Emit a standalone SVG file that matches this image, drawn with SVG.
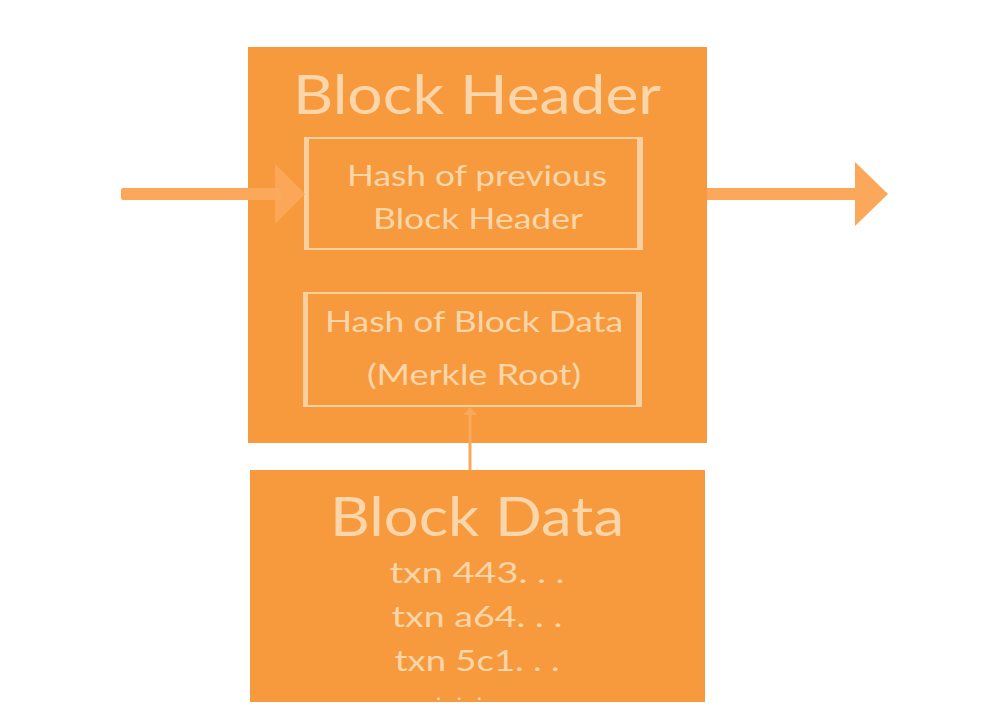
<svg xmlns="http://www.w3.org/2000/svg" width="984" height="719" viewBox="0 0 984 719">
<defs>
<style>
.box{fill:#F79A3E}
.t{fill:#FBD6AA;font-family:Lato,"Open Sans",sans-serif;text-anchor:middle}
.big{font-size:54px}
.mid{font-size:29px}
.edge{fill:none;stroke:#FAD0A0;stroke-width:2}
.bar{fill:#FAD0A0}
.arrow{fill:#FBA85A}
</style>
<clipPath id="bdclip"><rect x="250" y="470" width="455" height="232"/></clipPath>
</defs>
<rect width="984" height="719" fill="#FFFFFF"/>
<g id="block-header">
<rect class="box" x="248" y="47" width="459" height="396"/>
<text class="t big" x="477" y="114" textLength="368" lengthAdjust="spacingAndGlyphs">Block Header</text>
</g>
<g id="prev-hash">
<rect class="edge" x="306" y="138" width="336" height="111"/>
<rect class="bar" x="304" y="137" width="5" height="113"/>
<rect class="bar" x="637" y="137" width="6" height="113"/>
<text class="t mid" x="477" y="186" textLength="260" lengthAdjust="spacingAndGlyphs">Hash of previous</text>
<text class="t mid" x="478" y="229" textLength="210" lengthAdjust="spacingAndGlyphs">Block Header</text>
</g>
<g id="merkle-root">
<rect class="edge" x="305" y="293" width="336" height="113"/>
<rect class="bar" x="303" y="292" width="5" height="115"/>
<rect class="bar" x="636" y="292" width="6" height="115"/>
<text class="t mid" x="474" y="332" textLength="298" lengthAdjust="spacingAndGlyphs">Hash of Block Data</text>
<text class="t mid" x="474" y="385" textLength="214" lengthAdjust="spacingAndGlyphs">(Merkle Root)</text>
</g>
<g id="block-data">
<rect class="box" x="250" y="470" width="455" height="232"/>
<text class="t big" x="477" y="536" textLength="294" lengthAdjust="spacingAndGlyphs">Block Data</text>
<text class="t mid" x="477" y="583" textLength="175" lengthAdjust="spacingAndGlyphs">txn 443. . .</text>
<text class="t mid" x="477" y="627" textLength="171" lengthAdjust="spacingAndGlyphs">txn a64. . .</text>
<text class="t mid" x="477" y="671" textLength="165" lengthAdjust="spacingAndGlyphs">txn 5c1. . .</text>
<text class="t" style="font-size:22px" x="459" y="700" textLength="46" lengthAdjust="spacing" clip-path="url(#bdclip)">. . .</text>
</g>
<g id="connectors">
<rect class="arrow" x="121" y="188" width="160" height="12" rx="2"/>
<polygon class="arrow" points="275,164 305,194 275,224" opacity="0.9"/>
<rect class="arrow" x="707" y="188" width="152" height="12"/>
<polygon class="arrow" points="855,162 888,194 855,226"/>
<line x1="470" y1="470" x2="470" y2="414" stroke="#FBA85A" stroke-width="3"/>
<polygon points="463,415 470,407 477,415" fill="#FBA85A"/>
</g>
</svg>
